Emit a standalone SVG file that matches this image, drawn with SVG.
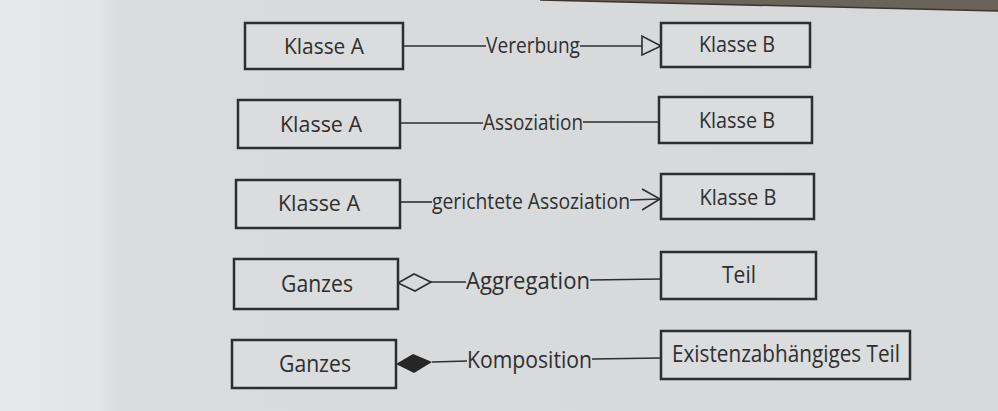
<svg xmlns="http://www.w3.org/2000/svg" width="998" height="411" viewBox="0 0 998 411">
<defs>
<style>
.box{fill:#dadcde;stroke:#2e2e2e;stroke-width:2.5}
.t{font-family:"Open Sans","Liberation Sans",sans-serif;font-size:21px;fill:#2f2f2f}
.b{font-size:23px}
.c{stroke:#2e2e2e;stroke-width:1.6;fill:none}
</style>
<linearGradient id="bg" x1="0" y1="0" x2="1" y2="0">
<stop offset="0" stop-color="#e6e8ea"/>
<stop offset="0.1" stop-color="#e2e4e6"/>
<stop offset="0.12" stop-color="#d9dbdd"/>
<stop offset="1" stop-color="#d6d8da"/>
</linearGradient>
</defs>
<rect width="998" height="411" fill="url(#bg)"/>
<polygon points="540,0 998,0 998,11" fill="#6b6259"/>
<line x1="540" y1="0" x2="998" y2="11" stroke="#3a3530" stroke-width="1.5"/>

<g id="connectors">
<g id="e1">
<line class="c" x1="403" y1="46" x2="486" y2="46"/>
<text class="t" x="486" y="53" textLength="94" lengthAdjust="spacingAndGlyphs">Vererbung</text>
<line class="c" x1="580" y1="46" x2="642" y2="46"/>
<polygon class="c" points="642,36 642,55 661,46" fill="#dadcde" stroke-width="2"/>
</g>
<g id="e2">
<line class="c" x1="400" y1="123" x2="483" y2="123"/>
<text class="t" x="483" y="130" textLength="100" lengthAdjust="spacingAndGlyphs">Assoziation</text>
<line class="c" x1="583" y1="122" x2="659" y2="122"/>
</g>
<g id="e3">
<line class="c" x1="400" y1="202" x2="432" y2="202"/>
<text class="t" x="432" y="209" textLength="198" lengthAdjust="spacingAndGlyphs">gerichtete Assoziation</text>
<line class="c" x1="630" y1="200" x2="660" y2="199"/>
<polyline class="c" points="642,189 660,199 642,210" stroke-width="2"/>
</g>
<g id="e4">
<polygon class="c" points="398,283 414,274 431,282 415,291" fill="#dadcde" stroke-width="2"/>
<line class="c" x1="431" y1="282" x2="466" y2="282"/>
<text class="t b" x="466" y="289" textLength="124" lengthAdjust="spacingAndGlyphs">Aggregation</text>
<line class="c" x1="590" y1="280" x2="661" y2="279"/>
</g>
<g id="e5">
<polygon points="396,364 413,354 432,362 414,373" fill="#262626"/>
<line class="c" x1="432" y1="362" x2="467" y2="361"/>
<text class="t b" x="467" y="368" textLength="125" lengthAdjust="spacingAndGlyphs">Komposition</text>
<line class="c" x1="592" y1="359" x2="661" y2="358"/>
</g>
</g>

<g id="n1"><rect class="box" x="245" y="23" width="158" height="46"/><text class="t" x="324" y="54" text-anchor="middle" textLength="80" lengthAdjust="spacingAndGlyphs">Klasse A</text></g>
<g id="n2"><rect class="box" x="661" y="23" width="149" height="44"/><text class="t" x="737" y="52" text-anchor="middle" textLength="76" lengthAdjust="spacingAndGlyphs">Klasse B</text></g>
<g id="n3"><rect class="box" x="238" y="100" width="162" height="48"/><text class="t" x="321" y="132" text-anchor="middle" textLength="82" lengthAdjust="spacingAndGlyphs">Klasse A</text></g>
<g id="n4"><rect class="box" x="659" y="97" width="153" height="46"/><text class="t" x="737" y="128" text-anchor="middle" textLength="76" lengthAdjust="spacingAndGlyphs">Klasse B</text></g>
<g id="n5"><rect class="box" x="236" y="180" width="164" height="48"/><text class="t" x="319" y="211" text-anchor="middle" textLength="82" lengthAdjust="spacingAndGlyphs">Klasse A</text></g>
<g id="n6"><rect class="box" x="661" y="174" width="153" height="45"/><text class="t" x="738" y="205" text-anchor="middle" textLength="77" lengthAdjust="spacingAndGlyphs">Klasse B</text></g>
<g id="n7"><rect class="box" x="234" y="259" width="164" height="50"/><text class="t b" x="317" y="292" text-anchor="middle" textLength="72" lengthAdjust="spacingAndGlyphs">Ganzes</text></g>
<g id="n8"><rect class="box" x="661" y="252" width="155" height="47"/><text class="t b" x="739" y="283" text-anchor="middle" textLength="34" lengthAdjust="spacingAndGlyphs">Teil</text></g>
<g id="n9"><rect class="box" x="232" y="340" width="164" height="48"/><text class="t b" x="315" y="372" text-anchor="middle" textLength="72" lengthAdjust="spacingAndGlyphs">Ganzes</text></g>
<g id="n10"><rect class="box" x="661" y="331" width="249" height="48"/><text class="t b" x="786" y="362" text-anchor="middle" textLength="228" lengthAdjust="spacingAndGlyphs">Existenzabhängiges Teil</text></g>
</svg>
